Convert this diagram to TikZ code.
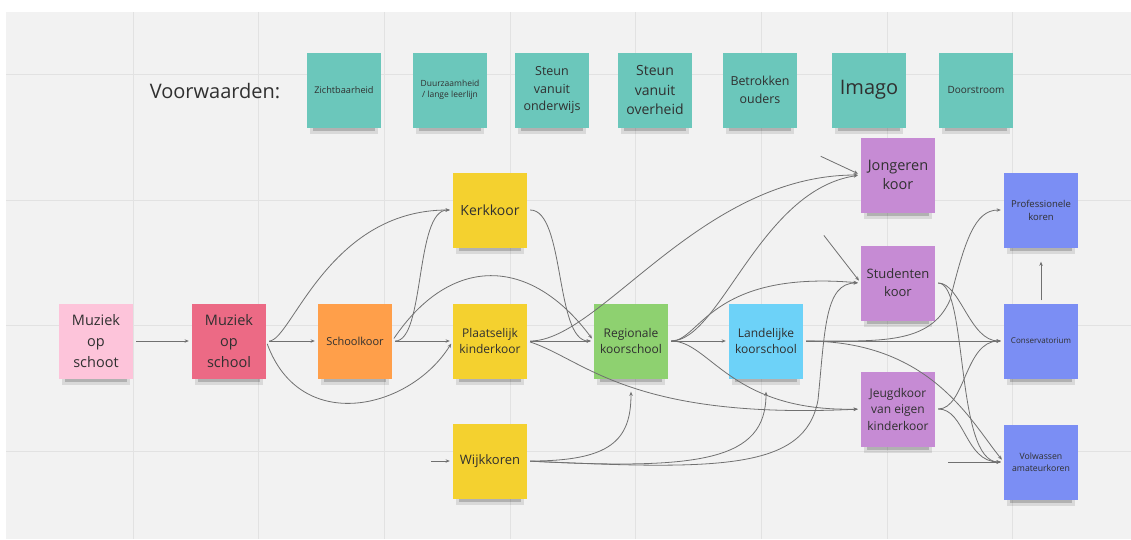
\documentclass[tikz,border=0pt]{standalone}
\usepackage{fontspec}
\setmainfont{Open Sans}
\usetikzlibrary{arrows.meta}
\pgfdeclarelayer{back}
\pgfdeclarelayer{shad}
\pgfsetlayers{back,shad,main}
\definecolor{board}{HTML}{F2F2F2}
\definecolor{gridc}{HTML}{E2E2E2}
\definecolor{cteal}{HTML}{6BC7BB}
\definecolor{cpinkl}{HTML}{FDC4DA}
\definecolor{cpinkr}{HTML}{EC6A85}
\definecolor{corange}{HTML}{FF9F4A}
\definecolor{cyellow}{HTML}{F4D12F}
\definecolor{cgreen}{HTML}{8ED170}
\definecolor{cblue}{HTML}{6DD2F8}
\definecolor{cpurple}{HTML}{C68BD4}
\definecolor{cviolet}{HTML}{7B8EF4}
\definecolor{ctext}{HTML}{303030}
\definecolor{cline}{HTML}{707070}
\newcommand\nfs[2]{\fontsize{#1}{#2}\selectfont}
\begin{document}
\begin{tikzpicture}[x=1pt,y=-1pt,
  note/.style={minimum width=74pt,minimum height=75pt,inner sep=1pt,align=center,
    text=ctext,draw=none},
  shadA/.style={fill=black,opacity=0.10},
  shadB/.style={fill=black,opacity=0.18},
  conn/.style={draw=cline,line width=0.8pt,-{Stealth[length=4.2pt,width=3.4pt]},
    shorten >=3pt,shorten <=3pt}]
\useasboundingbox (0,0) rectangle (1131,539);
\begin{pgfonlayer}{back}
\fill[white] (0,0) rectangle (1131,539);
\fill[board] (6,12) rectangle (1131,539);
\foreach \i in {0,...,7} \draw[gridc,line width=1pt] ({133+125.7*\i},12) -- ({133+125.7*\i},539);
\foreach \j in {0,...,3} \draw[gridc,line width=1pt] (6,{74.5+125.5*\j}) -- (1131,{74.5+125.5*\j});
\end{pgfonlayer}

% Voorwaarden row
\node[text=ctext,font=\nfs{20}{24}] (vw) at (215,91) {Voorwaarden:};
\node[note,fill=cteal,font=\nfs{9.2}{12}] (t1) at (344,90) {Zichtbaarheid};
\node[note,fill=cteal,font=\nfs{8.5}{11.5}] (t2) at (450,90) {Duurzaamheid\\/ lange leerlijn};
\node[note,fill=cteal,font=\nfs{12.5}{17.5}] (t3) at (552,90) {Steun\\vanuit\\onderwijs};
\node[note,fill=cteal,font=\nfs{14}{19.5}] (t4) at (655,90) {Steun\\vanuit\\overheid};
\node[note,fill=cteal,font=\nfs{12.4}{18}] (t5) at (760,90) {Betrokken\\ouders};
\node[note,fill=cteal,font=\nfs{20}{24}] (t6) at (869,90) {Imago};
\node[note,fill=cteal,font=\nfs{10}{12}] (t7) at (976,90) {Doorstroom};

% main nodes
\node[note,fill=cpinkl,font=\nfs{14.5}{21}] (mos) at (96,341) {Muziek\\op\\schoot};
\node[note,fill=cpinkr,font=\nfs{14.5}{21}] (msch) at (229,341) {Muziek\\op\\school};
\node[note,fill=corange,font=\nfs{11}{14}] (skoor) at (355,341) {Schoolkoor};
\node[note,fill=cyellow,font=\nfs{14}{17}] (kerk) at (490,210) {Kerkkoor};
\node[note,fill=cyellow,font=\nfs{12}{16.5}] (plaat) at (490,341) {Plaatselijk\\kinderkoor};
\node[note,fill=cyellow,font=\nfs{13}{16}] (wijk) at (490,461) {Wijkkoren};
\node[note,fill=cgreen,font=\nfs{12}{16.5}] (reg) at (631,341) {Regionale\\koorschool};
\node[note,fill=cblue,font=\nfs{12}{16.5}] (land) at (766,341) {Landelijke\\koorschool};
\node[note,fill=cpurple,font=\nfs{14.5}{19}] (jong) at (898,175) {Jongeren\\koor};
\node[note,fill=cpurple,font=\nfs{13}{18}] (stud) at (898,283) {Studenten\\koor};
\node[note,fill=cpurple,font=\nfs{12}{16.5}] (jeugd) at (898,409) {Jeugdkoor\\van eigen\\kinderkoor};
\node[note,fill=cviolet,font=\nfs{9.5}{13}] (prof) at (1041,210) {Professionele\\koren};
\node[note,fill=cviolet,font=\nfs{8}{10}] (cons) at (1041,341) {Conservatorium};
\node[note,fill=cviolet,font=\nfs{8.7}{12}] (volw) at (1041,462) {Volwassen\\amateurkoren};

% shadows under the notes
\begin{pgfonlayer}{shad}
\foreach \n in {t1,t2,t3,t4,t5,t6,t7,mos,msch,skoor,kerk,plaat,wijk,reg,land,jong,stud,jeugd,prof,cons,volw}{
  \fill[shadA] ([xshift=3pt,yshift=4pt]\n.south west) rectangle ([xshift=-3pt,yshift=-6pt]\n.south east);
  \fill[shadB] ([xshift=6pt,yshift=4pt]\n.south west) rectangle ([xshift=-6pt,yshift=-3.5pt]\n.south east);
}
\end{pgfonlayer}

% free ends
\coordinate (fj) at (818,155);
\coordinate (fs) at (822,233);
\coordinate (fv) at (945,462);
\coordinate (fw) at (428,461);

% connectors
\draw[conn] (mos.east) -- (msch.west);
\draw[conn] (msch.east) -- (skoor.west);
\draw[conn] (msch.east) .. controls +(25,0) and +(-125,0) .. (kerk.west);
\draw[conn] (msch.east) .. controls +(34,94) and +(-43,69) .. (plaat.west);
\draw[conn] (skoor.east) .. controls +(33,0) and +(-38,0) .. (kerk.west);
\draw[conn] (skoor.east) -- (plaat.west);
\draw[conn] (skoor.east) .. controls +(58,-86) and +(-64,-86) .. (reg.west);
\draw[conn] (kerk.east) .. controls +(38,0) and +(-39,0) .. (reg.west);
\draw[conn] (plaat.east) -- (reg.west);
\draw[conn] (plaat.east) .. controls +(73,0) and +(-161,0) .. (jong.west);
\draw[conn] (plaat.east) .. controls +(58,19) and +(-231,11) .. (jeugd.west);
\draw[conn,shorten >=13pt] (wijk.east) .. controls +(83,0) and +(0,62) .. (reg.south);
\draw[conn,shorten >=13pt] (wijk.east) .. controls +(173,9) and +(0,82) .. (land.south);
\draw[conn] (wijk.east) .. controls +(193,9) and +(-13,70) .. (818,400)
   .. controls +(7,-70) and +(-36,0) .. (stud.west);
\draw[conn] (fw) -- (wijk.west);
\draw[conn] (reg.east) -- (land.west);
\draw[conn] (reg.east) .. controls +(52,0) and +(-101,15) .. (jong.west);
\draw[conn] (reg.east) .. controls +(32,0) and +(-151,-13) .. (stud.west);
\draw[conn] (reg.east) .. controls +(42,0) and +(-131,3) .. (jeugd.west);
\draw[conn] (land.east) -- (cons.west);
\draw[conn] (land.east) .. controls +(77,0) and +(-20,45) .. (950,300)
   .. controls +(15,-60) and +(-29,0) .. (prof.west);
\draw[conn] (land.east) .. controls +(127,0) and +(-34,-42) .. (volw.west);
\draw[conn] (stud.east) .. controls +(25,0) and +(-34,0) .. (cons.west);
\draw[conn] (stud.east) .. controls +(33,0) and +(-49,0) .. (volw.west);
\draw[conn] (jeugd.east) .. controls +(30,0) and +(-39,0) .. (cons.west);
\draw[conn] (jeugd.east) .. controls +(30,0) and +(-39,0) .. (volw.west);
\draw[conn,shorten >=14pt] (cons.north) -- (prof.south);
\draw[conn] (fj) -- (jong.west);
\draw[conn] (fs) -- (stud.west);
\draw[conn] (fv) -- (volw.west);
\end{tikzpicture}
\end{document}
